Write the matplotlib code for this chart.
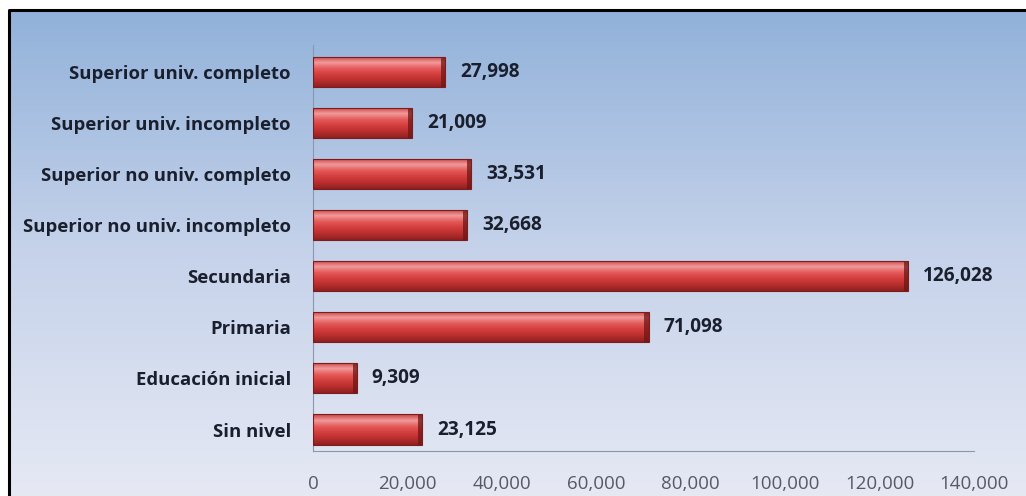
import numpy as np
import matplotlib
matplotlib.use("Agg")
from matplotlib import pyplot as plt
from matplotlib.patches import Rectangle
from matplotlib.colors import LinearSegmentedColormap

categories = ["Sin nivel", "Educación inicial", "Primaria", "Secundaria",
              "Superior no univ. incompleto", "Superior no univ. completo",
              "Superior univ. incompleto", "Superior univ. completo"]
values = [23125, 9309, 71098, 126028, 32668, 33531, 21009, 27998]
value_labels = ["23,125", "9,309", "71,098", "126,028", "32,668", "33,531", "21,009", "27,998"]
xticks = [0, 20000, 40000, 60000, 80000, 100000, 120000, 140000]
xtick_labels = ["0", "20,000", "40,000", "60,000", "80,000", "100,000", "120,000", "140,000"]

plt.rcParams['font.family'] = ['Open Sans', 'DejaVu Sans']

W, H = 1026, 496
fig = plt.figure(figsize=(W / 100, H / 100), dpi=100)

# background gradient (blue at top, pale at bottom)
bg = fig.add_axes([0, 0, 1, 1], zorder=0)
bg_cmap = LinearSegmentedColormap.from_list("bg", ["#e6e9f4", "#c5d2ea", "#8fb0d9"])
grad = np.linspace(0, 1, 256).reshape(-1, 1)
bg.imshow(grad, cmap=bg_cmap, aspect='auto', extent=[0, 1, 0, 1], origin='lower')
bg.set_xlim(0, 1)
bg.set_ylim(0, 1)
bg.axis('off')
# white margin above/left of the frame and the black frame
bg.add_patch(Rectangle((0, 1 - 10 / H), 1, 10 / H, color='white', zorder=2))
bg.add_patch(Rectangle((0, 0), 9 / W, 1, color='white', zorder=2))
bg.plot([9 / W, 9 / W, 1.01], [-0.01, 1 - 10 / H, 1 - 10 / H], color='black', lw=2.2, zorder=3)

ax = fig.add_axes([313 / W, 45 / H, (974 - 313) / W, (451 - 45) / H], zorder=1)
ax.patch.set_alpha(0)
ypos = np.arange(len(categories))
bars = ax.barh(ypos, values, height=0.59, color='#cf3a3a', edgecolor='none', zorder=2)

# glossy vertical gradient inside each bar
bar_cmap = LinearSegmentedColormap.from_list(
    "bar", ["#8e2020", "#b82e2e", "#d33d3d", "#e45a5a", "#f29a9a", "#c84040"])
shade = np.linspace(0, 1, 64).reshape(-1, 1)
for b in bars:
    x0, y0, w, h = b.get_x(), b.get_y(), b.get_width(), b.get_height()
    im = ax.imshow(shade, cmap=bar_cmap, aspect='auto', origin='lower',
                   extent=[x0, x0 + w, y0, y0 + h], zorder=3)
    im.set_clip_path(b)
    # darker right end cap
    ax.add_patch(Rectangle((x0 + w - 900, y0), 900, h, color='#6e1616', alpha=0.75, lw=0, zorder=4))
    ax.add_patch(Rectangle((x0, y0), w, h, fill=False, edgecolor='#7d1c1c', lw=0.8, zorder=5))

for y, v, lab in zip(ypos, values, value_labels):
    ax.text(v + 3100, y, lab, va='center', ha='left', fontsize=13.7, fontweight='bold', color='#1a1f2e')

ax.set_xlim(0, 140000)
ax.set_ylim(-0.42, 7.52)
ax.set_yticks(ypos)
ax.set_yticklabels(categories, fontsize=13.3, fontweight='bold', color='#1a1f2e')
ax.set_xticks(xticks)
ax.set_xticklabels(xtick_labels, fontsize=13.5, color='#555a66')
ax.tick_params(axis='both', length=0)
ax.tick_params(axis='y', pad=16)
ax.tick_params(axis='x', pad=17)
for s in ['top', 'right']:
    ax.spines[s].set_visible(False)
ax.spines['left'].set_color('#8a97ad')
ax.spines['bottom'].set_color('#8a97ad')

fig.savefig("out.png", dpi=100)
